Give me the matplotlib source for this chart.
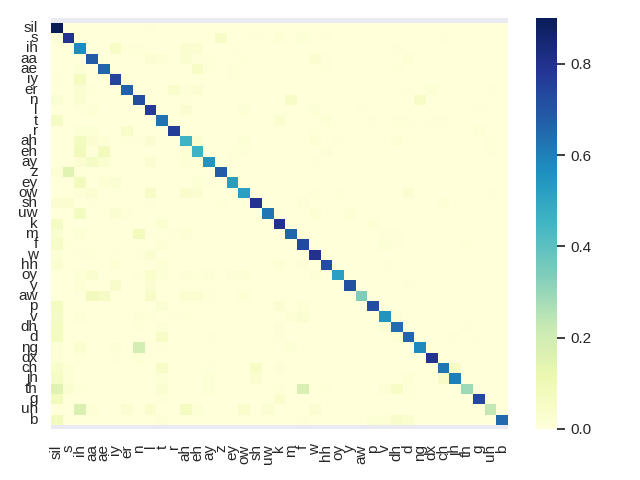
import numpy as np
import matplotlib
matplotlib.use("Agg")
import matplotlib.pyplot as plt
import seaborn as sns

# phone labels, same order on both axes
phones = ['sil', 's', 'ih', 'aa', 'ae', 'iy', 'er', 'n', 'l', 't', 'r', 'ah', 'eh',
          'ay', 'z', 'ey', 'ow', 'sh', 'uw', 'k', 'm', 'f', 'w', 'hh', 'oy', 'y',
          'aw', 'p', 'v', 'dh', 'd', 'ng', 'dx', 'ch', 'jh', 'th', 'g', 'uh', 'b']

diagonal = [.90, .79, .57, .68, .66, .74, .67, .72, .77, .63, .76, .46, .46,
            .55, .68, .53, .52, .79, .62, .80, .66, .73, .80, .72, .52, .71,
            .34, .72, .55, .64, .66, .58, .79, .62, .60, .29, .73, .23, .65]

# confusions per row: column index and value
off_cols = [
    [8],
    [0, 14, 17, 19, 21, 23, 33],
    [5, 6, 7, 11, 12, 15, 29, 32],
    [8, 9, 11, 12, 13, 16, 22, 23, 30],
    [2, 12, 13, 15, 23, 29],
    [0, 2, 15, 28, 30],
    [2, 3, 10, 11, 12, 25, 30, 32, 37],
    [0, 2, 11, 20, 31],
    [2, 3, 5, 11, 16, 22, 26, 36],
    [0, 19, 23, 27, 29, 30, 32, 33],
    [2, 3, 6, 22, 36],
    [2, 3, 4, 6, 7, 8, 12, 16, 22, 24, 29, 37],
    [2, 3, 4, 11, 15, 16, 23, 27, 37],
    [2, 3, 4, 8, 11, 12, 15, 22],
    [0, 1, 2],
    [2, 4, 5, 12, 13],
    [2, 3, 8, 11, 12, 22, 24, 30, 37],
    [0, 1, 3, 8, 14, 21, 33],
    [2, 5, 6, 22, 25],
    [0, 9, 27],
    [0, 2, 7, 8, 10, 11, 28, 29, 31],
    [0, 1, 8, 9, 28, 29, 35],
    [0, 2, 3, 5, 7, 8],
    [0, 3, 5, 9, 19, 21, 28],
    [2, 3, 7, 8, 9, 11, 12, 13, 15, 16, 22],
    [2, 5, 8, 23, 30, 34],
    [2, 3, 4, 8, 11, 12, 13, 15, 16],
    [0, 9, 19, 21],
    [0, 2, 6, 7, 8, 10, 11, 20, 21, 29, 35],
    [0, 7, 9, 19, 28, 35],
    [0, 9, 13, 19, 29, 34, 36],
    [0, 2, 5, 7, 9, 20],
    [0, 2, 5, 7, 8, 28],
    [0, 1, 9, 13, 17, 19, 34],
    [0, 1, 9, 13, 17, 30, 33],
    [0, 1, 2, 9, 13, 19, 21, 23, 28, 29, 30],
    [0, 9, 19, 30],
    [2, 3, 6, 8, 11, 12, 15, 16, 18, 22, 23],
    [0, 9, 21, 27, 28, 29, 30],
]
off_vals = [
    [.006],
    [.015, .05, .01, .015, .02, .005, .005],
    [.05, .01, .01, .025, .025, .005, .005, .002],
    [.025, .015, .03, .005, .01, .01, .025, .005, .015],
    [.02, .05, .01, .008, .01, .01],
    [.005, .07, .008, .003, .003],
    [.03, .01, .04, .012, .025, .003, .005, .02, .005],
    [.03, .03, .005, .05, .05],
    [.005, .015, .003, .025, .02, .02, .005, .005],
    [.06, .035, .02, .005, .01, .01, .005, .005],
    [.02, .02, .045, .008, .015],
    [.07, .025, .02, .01, .005, .025, .035, .02, .015, .004, .015, .01],
    [.09, .005, .08, .02, .01, .008, .012, .003, .01],
    [.025, .06, .035, .025, .015, .008, .01, .004],
    [.02, .15, .01],
    [.08, .02, .03, .02, .005],
    [.02, .025, .05, .04, .025, .01, .01, .03, .005],
    [.025, .025, .004, .005, .01, .012, .02],
    [.07, .035, .008, .015, .015],
    [.06, .03, .02],
    [.03, .02, .08, .005, .004, .015, .005, .004, .003],
    [.05, .01, .003, .015, .02, .004, .01],
    [.015, .005, .008, .004, .005, .03],
    [.03, .003, .015, .02, .02, .012, .005],
    [.02, .035, .005, .04, .02, .012, .008, .012, .012, .015, .012],
    [.015, .045, .025, .003, .005, .003],
    [.005, .09, .06, .05, .03, .03, .008, .003, .02],
    [.07, .03, .03, .015],
    [.06, .012, .003, .012, .008, .004, .008, .015, .03, .012, .003],
    [.07, .01, .012, .012, .02, .005],
    [.07, .05, .005, .008, .02, .008, .008],
    [.02, .035, .012, .19, .005, .02],
    [.015, .008, .004, .02, .003, .003],
    [.04, .02, .05, .005, .05, .012, .05],
    [.06, .015, .02, .02, .025, .015, .05],
    [.15, .03, .01, .03, .02, .01, .17, .01, .015, .05, .01],
    [.08, .006, .04, .01],
    [.17, .015, .025, .04, .07, .02, .003, .04, .03, .025, .003],
    [.08, .012, .004, .02, .015, .045, .035],
]

sns.set()
plt.rcParams['font.family'] = ['Liberation Sans', 'DejaVu Sans']

conf = np.diag(diagonal)
for r, (cols, vals) in enumerate(zip(off_cols, off_vals)):
    for c, v in zip(cols, vals):
        conf[r, c] = v

fig = plt.figure(figsize=(6.4, 4.8), dpi=100)
ax = fig.add_axes([51 / 640, 1 - 429 / 480, 457 / 640, 411 / 480])
cax = fig.add_axes([536 / 640, 1 - 429 / 480, 21 / 640, 411 / 480])

sns.heatmap(conf, xticklabels=phones, yticklabels=phones, cmap='YlGnBu',
            vmin=0, vmax=0.9, ax=ax, cbar_ax=cax)
ax.set_ylim(39.4, -0.45)
ax.grid(False)
ax.tick_params(axis='y', labelrotation=0)
ax.tick_params(axis='x', labelrotation=90, pad=5)

cax.set_yticks([0, 0.2, 0.4, 0.6, 0.8])
cax.tick_params(axis='y', right=True, length=6, width=1.25, color='.15')

fig.savefig('out.png', dpi=100)
